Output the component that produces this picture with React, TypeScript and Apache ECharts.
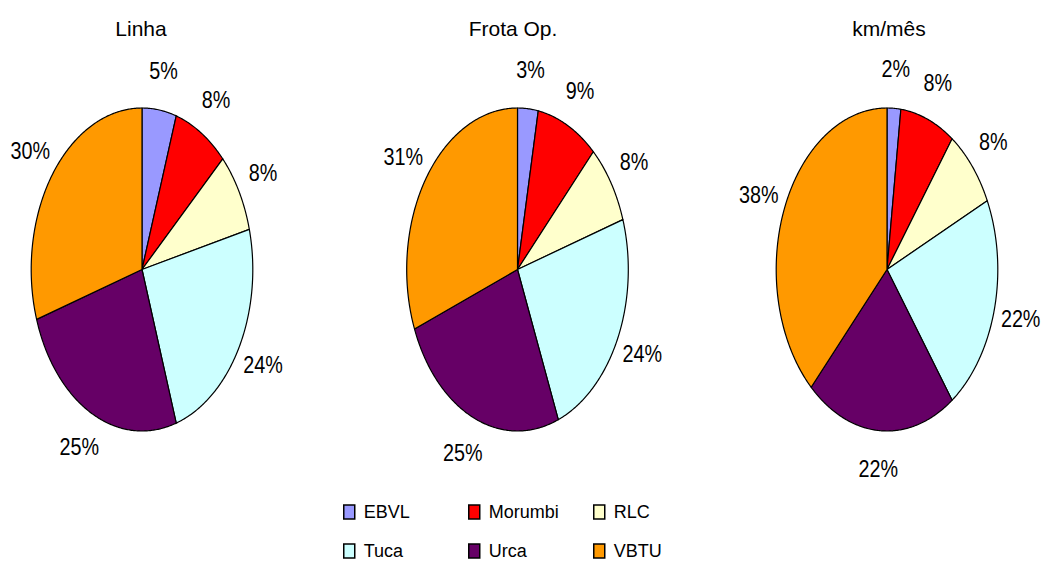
import React, { useEffect, useRef } from "react";
import * as echarts from "echarts";

// Share of each operator across three indicators
const companies = ["EBVL", "Morumbi", "RLC", "Tuca", "Urca", "VBTU"];
const colors = ["#9999FF", "#FF0000", "#FFFFCC", "#CCFFFF", "#660066", "#FF9900"];
const pieTitles = ["Linha", "Frota Op.", "km/mês"];
// values per company, one entry per pie (Linha, Frota Op., km/mês), in %
const ebvl = [5, 3, 2];
const morumbi = [8, 9, 8];
const rlc = [8, 8, 8];
const tuca = [24, 24, 22];
const urca = [25, 25, 22];
const vbtu = [30, 31, 38];
const values = [ebvl, morumbi, rlc, tuca, urca, vbtu];

const FONT = "'Liberation Sans', Arial, sans-serif";

// ellipse geometry of each pie, in pixels
const centersX = [142, 517.5, 887];
const centerY = 269.5;
const RX = 110.8;
const RY = 161.5;
// radii of the ellipse on which the percentage labels sit
const LABEL_RX = 138;
const LABEL_RY = 200;

export default function App() {
  const ref = useRef<HTMLDivElement>(null);

  useEffect(() => {
    document.body.style.margin = "0";
    const chart = echarts.init(ref.current!, null, { renderer: "svg" });

    const series = companies.map((name, ci) => ({
      type: "custom",
      name,
      coordinateSystem: "none",
      itemStyle: { color: colors[ci] },
      data: values[ci].map((v) => [v]),
      renderItem: (params: any, api: any) => {
        const pi = params.dataIndex;
        const v = api.value(0) as number;
        const total = values.reduce((s, arr) => s + arr[pi], 0);
        let before = 0;
        for (let k = 0; k < ci; k++) before += values[k][pi];
        const a0 = (before / total) * Math.PI * 2;
        const a1 = ((before + v) / total) * Math.PI * 2;
        const cx = centersX[pi];
        const cy = centerY;
        const pts: number[][] = [[cx, cy]];
        const steps = Math.max(4, Math.ceil((a1 - a0) / 0.01));
        for (let s = 0; s <= steps; s++) {
          const t = a0 + ((a1 - a0) * s) / steps;
          pts.push([cx + RX * Math.sin(t), cy - RY * Math.cos(t)]);
        }
        const tm = (a0 + a1) / 2;
        const lx = cx + LABEL_RX * Math.sin(tm);
        const ly = cy - LABEL_RY * Math.cos(tm);
        return {
          type: "group",
          children: [
            {
              type: "polygon",
              shape: { points: pts },
              style: { fill: colors[ci], stroke: "#000", lineWidth: 1.2, lineJoin: "round" },
            },
            {
              type: "text",
              x: lx,
              y: ly,
              scaleX: 0.86,
              z2: 10,
              style: {
                text: `${v}%`,
                font: `23px ${FONT}`,
                fill: "#000",
                align: "center",
                verticalAlign: "middle",
              },
            },
          ],
        };
      },
    }));

    const legendCols = [
      { data: ["EBVL", "Tuca"], left: 343 },
      { data: ["Morumbi", "Urca"], left: 468 },
      { data: ["RLC", "VBTU"], left: 593 },
    ];

    chart.setOption({
      animation: false,
      backgroundColor: "#fff",
      title: pieTitles.map((t, i) => ({
        text: t,
        left: [141, 513, 889][i],
        top: 18,
        padding: 0,
        textAlign: "center",
        textStyle: { fontFamily: FONT, fontSize: 21, fontWeight: "normal", color: "#000" },
      })),
      legend: legendCols.map((c) => ({
        data: c.data,
        orient: "vertical",
        left: c.left,
        top: 502,
        padding: 0,
        itemGap: 19,
        itemWidth: 11,
        itemHeight: 14,
        icon: "rect",
        selectedMode: false,
        itemStyle: { borderColor: "#000", borderWidth: 1.5 },
        textStyle: { fontFamily: FONT, fontSize: 18, lineHeight: 20, color: "#000", padding: [0, 0, 0, 4] },
      })),
      series,
    });

    return () => chart.dispose();
  }, []);

  return <div ref={ref} style={{ width: 1043, height: 571 }} />;
}
